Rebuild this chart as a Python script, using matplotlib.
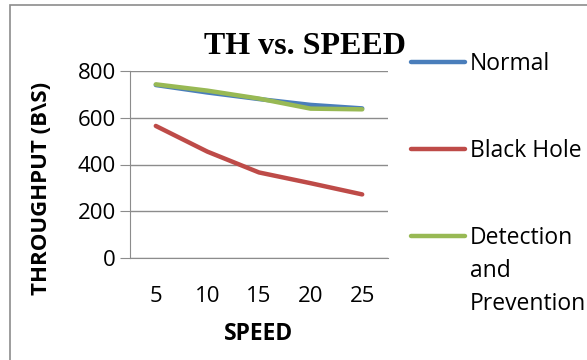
import matplotlib.pyplot as plt
from matplotlib.lines import Line2D
from matplotlib.patches import Rectangle

speeds = ["5", "10", "15", "20", "25"]
normal = [740, 708, 680, 655, 640]
black_hole = [565, 455, 366, 320, 272]
detection = [743, 716, 682, 639, 636]

labels = ["Normal", "Black Hole", "Detection\nand\nPrevention"]
colors = ["#4A7EBB", "#BE4B48", "#98B954"]

W, H = 587, 360
fig = plt.figure(figsize=(W / 100, H / 100), dpi=100)
sans = ["Open Sans", "DejaVu Sans"]

# outer chart frame
fig.patches.append(Rectangle((10 / W, -0.1), 1.2, (H - 5) / H + 0.1, transform=fig.transFigure,
                             fill=False, edgecolor="#8c8c8c", linewidth=1.2))

ax = fig.add_axes([130 / W, (H - 258) / H, 258 / W, 187 / H])
x = range(len(speeds))
for series, c in zip([normal, black_hole, detection], colors):
    ax.plot(x, series, color=c, linewidth=3.2, solid_capstyle="round")

ax.set_xlim(-0.5, len(speeds) - 0.5)
ax.set_ylim(0, 800)
ax.set_yticks([0, 200, 400, 600, 800])
ax.set_xticks(list(x))
ax.set_xticklabels(speeds)
ax.grid(axis="y", color="#8c8c8c", linewidth=1)
ax.set_axisbelow(True)
for s in ["top", "right"]:
    ax.spines[s].set_visible(False)
for s in ["left", "bottom"]:
    ax.spines[s].set_color("#8c8c8c")
ax.tick_params(axis="y", length=7, color="#8c8c8c", labelsize=16, pad=3)
ax.tick_params(axis="x", length=0, labelsize=16, pad=20)
for t in ax.get_xticklabels() + ax.get_yticklabels():
    t.set_family(sans)

ax.set_xlabel("SPEED", fontsize=16.5, fontweight="bold", family=sans)
ax.set_ylabel("THROUGHPUT (B\\S)", fontsize=16, fontweight="bold", family=sans)
ax.xaxis.set_label_coords(0.5, (258 - 334) / 187, transform=ax.transAxes)
ax.xaxis.label.set_va("center")
ax.yaxis.set_label_coords((42 - 130) / 258, (258 - 188) / 187, transform=ax.transAxes)
ax.yaxis.label.set_va("center")

fig.text(305 / W, (H - 46) / H, "TH vs. SPEED", ha="center", va="center",
         fontsize=23, fontweight="bold", family="Liberation Serif")

# legend drawn at right
ys = [62, 149, 236]
for lab, c, y in zip(labels, colors, ys):
    fig.lines.append(Line2D([411 / W, 465 / W], [(H - y) / H] * 2, transform=fig.transFigure,
                            color=c, linewidth=3.2, solid_capstyle="round"))
    fig.text(470 / W, (H - y) / H + 10 / H, lab, ha="left", va="top", fontsize=16.5,
             family=sans, linespacing=1.5)

fig.savefig("out.png", dpi=100)
